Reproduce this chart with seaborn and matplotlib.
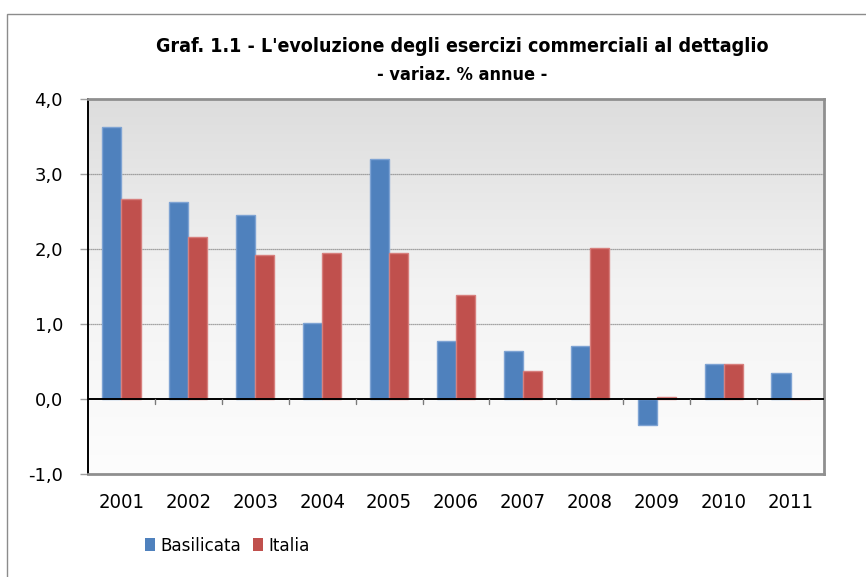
import numpy as np
import pandas as pd
import matplotlib
matplotlib.use("Agg")
import matplotlib.pyplot as plt
from matplotlib.patches import Rectangle
from matplotlib.font_manager import FontProperties
import seaborn as sns

# data
years = ["2001", "2002", "2003", "2004", "2005", "2006", "2007", "2008", "2009", "2010", "2011"]
basilicata = [3.63, 2.63, 2.45, 1.01, 3.20, 0.77, 0.64, 0.71, -0.35, 0.47, 0.35]
italia = [2.67, 2.16, 1.92, 1.95, 1.95, 1.39, 0.37, 2.01, 0.03, 0.47, 0.0]
series = ["Basilicata", "Italia"]
y_ticks = [-1.0, 0.0, 1.0, 2.0, 3.0, 4.0]
y_tick_labels = ["-1,0", "0,0", "1,0", "2,0", "3,0", "4,0"]

df = pd.DataFrame({
    "Anno": years * 2,
    "Valore": basilicata + italia,
    "Serie": [series[0]] * len(years) + [series[1]] * len(years),
})

sns.set_theme(style="white")
plt.rcParams['font.family'] = ['DejaVu Sans']
plt.rcParams['text.color'] = 'black'


def narrow(size, weight="normal"):
    return FontProperties(family="DejaVu Sans", stretch="condensed", size=size, weight=weight)


fig = plt.figure(figsize=(8.66, 5.77), dpi=100)
ax = fig.add_axes([88 / 866, 1 - 474 / 577, (824 - 88) / 866, (474 - 99) / 577])

# figure frame (left + top)
fig.patches.append(Rectangle((7 / 866, -0.1), 1.2, 1 - 14 / 577 + 0.1, transform=fig.transFigure,
                             fill=False, edgecolor="#8c8c8c", linewidth=1.0))

# gradient background of plot area
grad = np.linspace(0, 1, 256).reshape(-1, 1)
cmap = matplotlib.colors.LinearSegmentedColormap.from_list("bg", ["#dddddd", "#f3f3f3", "#fdfdfd"])
ax.imshow(grad, aspect="auto", cmap=cmap, extent=[-0.5, len(years) - 0.5, -1, 4],
          origin="upper", zorder=0)

colors = {"Basilicata": "#4f81bd", "Italia": "#c0504d"}
sns.barplot(data=df, x="Anno", y="Valore", hue="Serie", palette=colors, width=0.57,
            saturation=1, ax=ax, zorder=3, linewidth=1.0, legend=False)
edge = {"Basilicata": "#7ea3d3", "Italia": "#d77f7d"}
for cont, name in zip(ax.containers, series):
    for p in cont:
        p.set_edgecolor(edge[name])

ax.set_xlim(-0.5, len(years) - 0.5)
ax.set_ylim(-1, 4)
for v in [1, 2, 3]:
    ax.axhline(v, color="#8a8a8a", linewidth=0.9, linestyle=(0, (1, 0.6)), zorder=1)
ax.axhline(0, color="black", linewidth=1.4, zorder=4)
# category boundary ticks on the zero line
for i in range(len(years) - 1):
    ax.plot([i + 0.5, i + 0.5], [0, -0.07], color="#7a7a7a", linewidth=1.0, zorder=4)

ax.set_yticks(y_ticks)
ax.set_yticklabels(y_tick_labels, fontsize=13, color="black")
ax.tick_params(axis="y", left=True, length=6, width=1, color="#a0a0a0", pad=12)
ax.set_xticks(range(len(years)))
ax.set_xticklabels(years, fontproperties=narrow(14.5), color="black")
ax.tick_params(axis="x", bottom=False, length=0, pad=14)
ax.set_xlabel("")
ax.set_ylabel("")

ax.spines["left"].set_color("black")
ax.spines["left"].set_linewidth(1.4)
for s in ["top", "right", "bottom"]:
    ax.spines[s].set_color("#8f8f8f")
    ax.spines[s].set_linewidth(2.0)

fig.text(462 / 866, 1 - 47 / 577, "Graf. 1.1 - L'evoluzione degli esercizi commerciali al dettaglio",
         ha="center", va="center", fontproperties=narrow(14, "bold"), color="black")
fig.text(462 / 866, 1 - 75 / 577, "- variaz. % annue -",
         ha="center", va="center", fontproperties=narrow(13, "bold"), color="black")

handles = [Rectangle((0, 0), 1, 1, facecolor=colors[s], edgecolor="none") for s in series]
fig.legend(handles, series, loc="center left", bbox_to_anchor=(128 / 866, 1 - 546 / 577),
           ncol=2, frameon=False, handlelength=0.55, handleheight=0.72, handletextpad=0.3,
           columnspacing=0.65, prop=narrow(13.3))

fig.savefig("out.png", dpi=100)
